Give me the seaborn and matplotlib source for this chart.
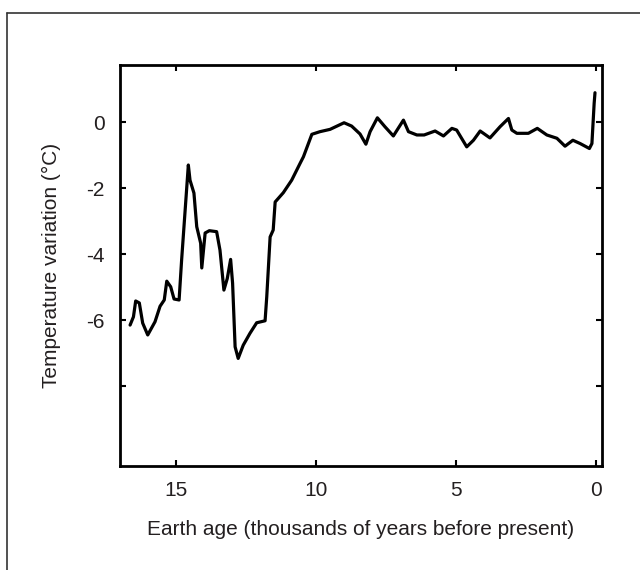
import numpy as np
import pandas as pd
import matplotlib
matplotlib.use("Agg")
import matplotlib.pyplot as plt
from matplotlib.lines import Line2D
import seaborn as sns

# Data
age_kyr = [16.64, 16.52, 16.44, 16.31, 16.19, 16.01, 15.75, 15.57, 15.42, 15.33,
           15.19, 15.07, 14.89, 14.80, 14.56, 14.50, 14.36, 14.26, 14.12, 14.08,
           13.96, 13.81, 13.55, 13.43, 13.29, 13.17, 13.05, 12.98, 12.89, 12.78,
           12.60, 12.36, 12.12, 11.82, 11.76, 11.64, 11.53, 11.46, 11.17, 10.87,
           10.57, 10.45, 10.15, 9.86, 9.50, 9.00, 8.73, 8.43, 8.22, 8.07,
           7.81, 7.54, 7.24, 6.88, 6.70, 6.40, 6.14, 5.75, 5.45, 5.15,
           4.98, 4.62, 4.38, 4.14, 3.79, 3.43, 3.13, 3.01, 2.83, 2.42,
           2.10, 1.76, 1.40, 1.11, 0.83, 0.57, 0.24, 0.15, 0.07, 0.04]
temp_c = [-6.15, -5.90, -5.42, -5.48, -6.09, -6.45, -6.05, -5.58, -5.39, -4.82,
          -4.99, -5.36, -5.39, -4.18, -1.30, -1.76, -2.15, -3.17, -3.67, -4.42,
          -3.36, -3.29, -3.32, -3.88, -5.09, -4.74, -4.16, -4.88, -6.81, -7.16,
          -6.76, -6.40, -6.08, -6.02, -5.29, -3.48, -3.27, -2.42, -2.14, -1.76,
          -1.25, -1.05, -0.37, -0.29, -0.22, -0.02, -0.12, -0.36, -0.67, -0.29,
          0.13, -0.14, -0.42, 0.06, -0.29, -0.39, -0.39, -0.27, -0.42, -0.19,
          -0.24, -0.75, -0.55, -0.27, -0.48, -0.14, 0.11, -0.24, -0.34, -0.34,
          -0.19, -0.39, -0.49, -0.73, -0.55, -0.65, -0.80, -0.65, 0.57, 0.89]

x_ticks = [15, 10, 5, 0]
x_tick_labels = ["15", "10", "5", "0"]
y_ticks = [0, -2, -4, -6, -8]
y_tick_labels = ["0", "-2", "-4", "-6", ""]

x_label = "Earth age (thousands of years before present)"
y_label = "Temperature variation (°C)"

sns.set_theme(style="white")
plt.rcParams["font.family"] = ["Liberation Sans", "DejaVu Sans"]

TEXT = "#231f20"
FS = 15
fig = plt.figure(figsize=(6.4, 5.7), dpi=100)
ax = fig.add_axes([120 / 640, 1 - 466 / 570, (602 - 120) / 640, (466 - 65) / 570])

df = pd.DataFrame({"age": age_kyr, "temp": temp_c})
sns.lineplot(data=df, x="age", y="temp", sort=False, estimator=None,
             color="black", linewidth=2.3, ax=ax)

ax.set_xlim(17.0, -0.21)
ax.set_ylim(-10.42, 1.73)
ax.set_xticks(x_ticks)
ax.set_xticklabels(x_tick_labels)
ax.set_yticks(y_ticks)
ax.set_yticklabels(y_tick_labels)

ax.tick_params(axis="both", which="major", direction="in", length=4, width=1.5,
               color="black", labelsize=FS, labelcolor=TEXT,
               top=True, right=True, bottom=True, left=True)
ax.tick_params(axis="x", pad=11)
ax.tick_params(axis="y", pad=11)

for sp in ax.spines.values():
    sp.set_visible(True)
    sp.set_color("black")
    sp.set_linewidth(2.0)

ax.set_xlabel(x_label, fontsize=FS, color=TEXT, labelpad=14)
ax.set_ylabel(y_label, fontsize=FS, color=TEXT, labelpad=18)

# outer frame (top and left edges)
fig.add_artist(Line2D([7 / 640, 1.0], [1 - 13 / 570, 1 - 13 / 570],
                      transform=fig.transFigure, color="#333333", linewidth=1.2))
fig.add_artist(Line2D([7 / 640, 7 / 640], [0.0, 1 - 13 / 570],
                      transform=fig.transFigure, color="#333333", linewidth=1.2))

fig.savefig("out.png", dpi=100, facecolor="white")
